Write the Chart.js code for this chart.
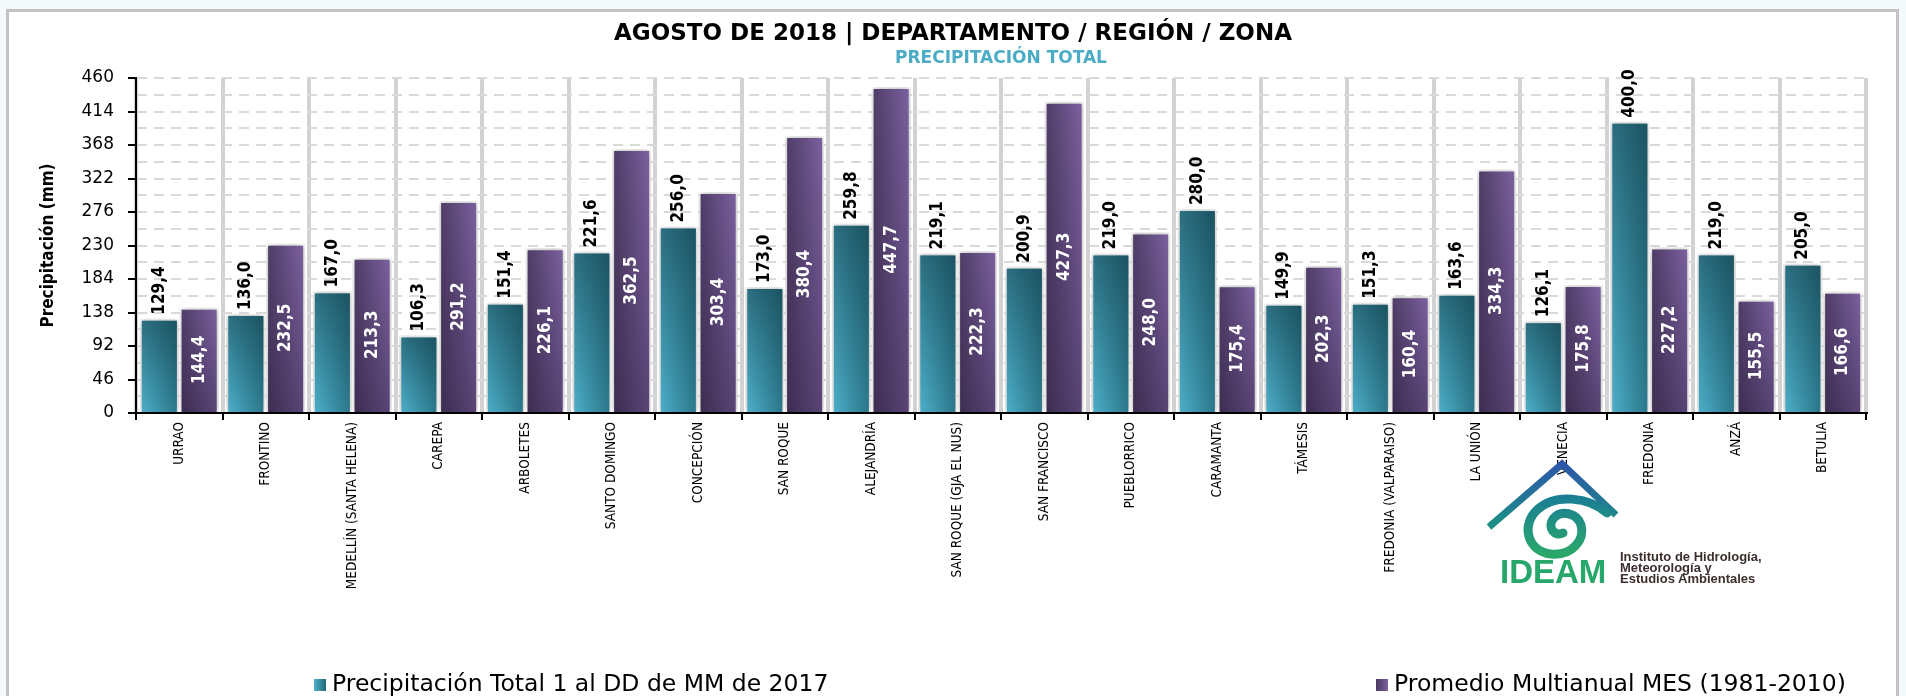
<!DOCTYPE html>
<html lang="es">
<head>
<meta charset="UTF-8">
<title>Agosto de 2018 | Precipitación total</title>
<script src="https://cdn.jsdelivr.net/npm/chart.js"></script>
<style>
    html, body { margin: 0; padding: 0; }
    body {
        width: 1906px;
        height: 696px;
        background: #f4f9fc;
        position: relative;
        overflow: hidden;
        font-family: "Liberation Sans", Arial, sans-serif;
    }
    .frame {
        position: absolute;
        left: 6px;
        top: 9px;
        width: 1887px;
        height: 700px;
        background: #ffffff;
        border: 3px solid #c3c3c3;
        border-bottom: none;
    }
    .chart-box {
        position: absolute;
        left: 0;
        top: 0;
        width: 1906px;
        height: 696px;
    }
    .logo {
        position: absolute;
        left: 1485px;
        top: 455px;
    }
</style>
</head>
<body>

<div class="frame"></div>

<div class="chart-box">
    <canvas id="precipChart"></canvas>
</div>

<!-- logo IDEAM -->
<svg class="logo" width="300" height="132" viewBox="0 0 300 132">
    <defs>
        <linearGradient id="roofGrad" x1="0" y1="1" x2="0" y2="0">
            <stop offset="0" stop-color="#1c9184"/>
            <stop offset="1" stop-color="#2c57a9"/>
        </linearGradient>
        <linearGradient id="swirlGrad" x1="0" y1="0" x2="0" y2="1">
            <stop offset="0" stop-color="#1b7f93"/>
            <stop offset="1" stop-color="#2aa86a"/>
        </linearGradient>
    </defs>
    <polyline points="4,72 77,9 131,60" fill="none" stroke="url(#roofGrad)" stroke-width="7"/>
    <path d="M 122,58 C 104,42 70,38 52,55 C 36,70 42,96 66,99 C 88,101 100,84 96,70 C 92,58 76,54 68,64 C 62,73 70,82 78,78"
          fill="none" stroke="url(#swirlGrad)" stroke-width="9" stroke-linecap="round"/>
    <text x="15" y="128" font-family="Liberation Sans, Arial, sans-serif" font-weight="bold" font-size="33" fill="#27a76b">IDEAM</text>
    <text font-family="Liberation Sans, Arial, sans-serif" font-weight="bold" font-size="13" fill="#3d2e2e">
        <tspan x="135" y="106">Instituto de Hidrología,</tspan>
        <tspan x="135" y="117">Meteorología y</tspan>
        <tspan x="135" y="128">Estudios Ambientales</tspan>
    </text>
</svg>

<script>
    // estaciones y valores (mm)
    const estaciones = ['URRAO', 'FRONTINO', 'MEDELLÍN (SANTA HELENA)', 'CAREPA', 'ARBOLETES',
        'SANTO DOMINGO', 'CONCEPCIÓN', 'SAN ROQUE', 'ALEJANDRÍA', 'SAN ROQUE (GJA EL NUS)',
        'SAN FRANCISCO', 'PUEBLORRICO', 'CARAMANTA', 'TÁMESIS', 'FREDONIA (VALPARAISO)',
        'LA UNIÓN', 'VENECIA', 'FREDONIA', 'ANZÁ', 'BETULIA'];
    const precipTotal = [129.4, 136.0, 167.0, 106.3, 151.4, 221.6, 256.0, 173.0, 259.8, 219.1,
        200.9, 219.0, 280.0, 149.9, 151.3, 163.6, 126.1, 400.0, 219.0, 205.0];
    const promedioMultianual = [144.4, 232.5, 213.3, 291.2, 226.1, 362.5, 303.4, 380.4, 447.7, 222.3,
        427.3, 248.0, 175.4, 202.3, 160.4, 334.3, 175.8, 227.2, 155.5, 166.6];
    const serieNombres = ['Precipitación Total 1 al DD de MM de 2017', 'Promedio Multianual MES (1981-2010)'];
    const yMax = 460;
    const yStep = 46;

    const narrow = '"DejaVu Sans Condensed", "Liberation Sans Narrow", "Arial Narrow", sans-serif';
    const wide = '"DejaVu Sans", Verdana, sans-serif';

    const fmt = v => v.toFixed(1).replace('.', ',');

    // degradado horizontal para cada barra
    function barGradient(left, right) {
        return (c) => {
            const chart = c.chart;
            if (!chart.chartArea || c.type !== 'data') return left;
            const x = chart.scales.x;
            const cx = x.getPixelForValue(c.dataIndex);
            const half = x.width / estaciones.length / 2 * 0.9;
            const x0 = c.datasetIndex === 0 ? cx - half : cx;
            const g = chart.ctx.createLinearGradient(x0, 0, x0 + half, 0);
            g.addColorStop(0, left);
            g.addColorStop(1, right);
            return g;
        };
    }

    // sombra, sombreado vertical y etiquetas de valor
    const barDecor = {
        id: 'barDecor',
        beforeDatasetsDraw(chart) {
            const ctx = chart.ctx;
            ctx.save();
            ctx.shadowColor = 'rgba(0, 0, 0, 0.35)';
            ctx.shadowBlur = 6;
        },
        afterDatasetsDraw(chart) {
            const ctx = chart.ctx;
            ctx.restore();

            const shades = [
                ['rgba(10, 45, 55, 0)', 'rgba(10, 45, 55, 0.5)'],
                ['rgba(25, 15, 40, 0.35)', 'rgba(25, 15, 40, 0)']
            ];
            chart.data.datasets.forEach((ds, di) => {
                chart.getDatasetMeta(di).data.forEach(bar => {
                    const {x, y, base, width} = bar.getProps(['x', 'y', 'base', 'width'], true);
                    const g = ctx.createLinearGradient(0, base, 0, y);
                    g.addColorStop(0, shades[di][0]);
                    g.addColorStop(1, shades[di][1]);
                    ctx.fillStyle = g;
                    ctx.fillRect(x - width / 2 + 2, y + 2, width - 4, base - y - 2);
                });
            });

            ctx.save();
            ctx.font = 'bold 17px ' + narrow;
            ctx.textBaseline = 'middle';
            chart.getDatasetMeta(0).data.forEach((bar, i) => {
                const {x, y} = bar.getProps(['x', 'y'], true);
                ctx.save();
                ctx.translate(x, y - 4);
                ctx.rotate(-Math.PI / 2);
                ctx.textAlign = 'left';
                ctx.fillStyle = '#000';
                ctx.fillText(fmt(chart.data.datasets[0].data[i]), 0, 0);
                ctx.restore();
            });
            chart.getDatasetMeta(1).data.forEach((bar, i) => {
                const {x, y, base} = bar.getProps(['x', 'y', 'base'], true);
                ctx.save();
                ctx.translate(x, (y + base) / 2);
                ctx.rotate(-Math.PI / 2);
                ctx.textAlign = 'center';
                ctx.fillStyle = '#fff';
                ctx.fillText(fmt(chart.data.datasets[1].data[i]), 0, 0);
                ctx.restore();
            });
            ctx.restore();
        }
    };

    // leyenda inferior, dos elementos muy separados
    const bottomLegend = {
        id: 'bottomLegend',
        afterDraw(chart) {
            const ctx = chart.ctx;
            const xs = [314, 1376];
            const yc = 685;
            const swatch = [['#4db1cb', '#236676'], ['#4a3960', '#7c62a0']];
            ctx.save();
            ctx.font = '23.5px ' + wide;
            ctx.textBaseline = 'middle';
            ctx.textAlign = 'left';
            chart.data.datasets.forEach((ds, i) => {
                const g = ctx.createLinearGradient(xs[i], 0, xs[i] + 12, 0);
                g.addColorStop(0, swatch[i][0]);
                g.addColorStop(1, swatch[i][1]);
                ctx.fillStyle = g;
                ctx.fillRect(xs[i], yc - 6, 12, 12);
                ctx.fillStyle = '#000';
                ctx.fillText(ds.label, xs[i] + 18, yc);
            });
            ctx.restore();
        }
    };

    const ctxPrecip = document.getElementById('precipChart').getContext('2d');
    const precipChart = new Chart(ctxPrecip, {
        type: 'bar',
        data: {
            labels: estaciones,
            datasets: [{
                label: serieNombres[0],
                data: precipTotal,
                backgroundColor: barGradient('#4db1cb', '#2a7487'),
                borderColor: '#ffffff',
                borderWidth: 2,
                categoryPercentage: 0.92,
                barPercentage: 0.98
            }, {
                label: serieNombres[1],
                data: promedioMultianual,
                backgroundColor: barGradient('#4d3b64', '#7d62a1'),
                borderColor: '#ffffff',
                borderWidth: 2,
                categoryPercentage: 0.92,
                barPercentage: 0.98
            }]
        },
        options: {
            responsive: true,
            maintainAspectRatio: false,
            animation: false,
            layout: {
                padding: {left: 10, right: 10, top: 0, bottom: 83}
            },
            plugins: {
                legend: {display: false},
                tooltip: {enabled: false},
                title: {
                    display: true,
                    text: 'AGOSTO DE 2018 | DEPARTAMENTO / REGIÓN / ZONA',
                    color: '#000',
                    font: {family: wide, size: 23, weight: 'bold'},
                    padding: {top: 20, bottom: 0}
                },
                subtitle: {
                    display: true,
                    fullSize: false,
                    text: 'PRECIPITACIÓN TOTAL',
                    color: '#4bacc6',
                    font: {family: wide, size: 17, weight: 'bold'},
                    padding: {top: 1, bottom: 9}
                }
            },
            scales: {
                x: {
                    afterFit(scale) { scale.height = 200; },
                    grid: {
                        color: '#d2d2d2',
                        lineWidth: 4,
                        tickColor: '#000',
                        tickWidth: 2,
                        tickLength: 7
                    },
                    border: {color: '#000', width: 2},
                    ticks: {
                        autoSkip: false,
                        minRotation: 90,
                        maxRotation: 90,
                        padding: 2,
                        color: '#000',
                        font: {family: narrow, size: 13.5}
                    }
                },
                y: {
                    min: 0,
                    max: yMax,
                    afterFit(scale) { scale.width = 126; },
                    grid: {
                        color: '#d9d9d9',
                        lineWidth: 2,
                        tickLength: 8,
                        tickWidth: 2,
                        tickBorderDash: [],
                        tickColor: c => (c.tick && c.tick.value % yStep === 0) ? '#000' : 'rgba(0,0,0,0)'
                    },
                    border: {color: '#000', width: 2, dash: [10, 7]},
                    ticks: {
                        stepSize: yStep / 2,
                        autoSkip: false,
                        maxTicksLimit: 40,
                        padding: 14,
                        color: '#000',
                        font: {family: wide, size: 17},
                        callback: v => v % yStep === 0 ? v : ''
                    },
                    title: {
                        display: true,
                        text: 'Precipitación (mm)',
                        color: '#000',
                        font: {family: narrow, size: 17, weight: 'bold'},
                        padding: {top: 28, bottom: 0}
                    }
                },
                // eje vacío a la derecha: solo reserva el margen derecho
                yRight: {
                    position: 'right',
                    afterFit(scale) { scale.width = 30; },
                    grid: {display: false},
                    border: {display: false},
                    ticks: {display: false}
                }
            }
        },
        plugins: [barDecor, bottomLegend]
    });
</script>

</body>
</html>
